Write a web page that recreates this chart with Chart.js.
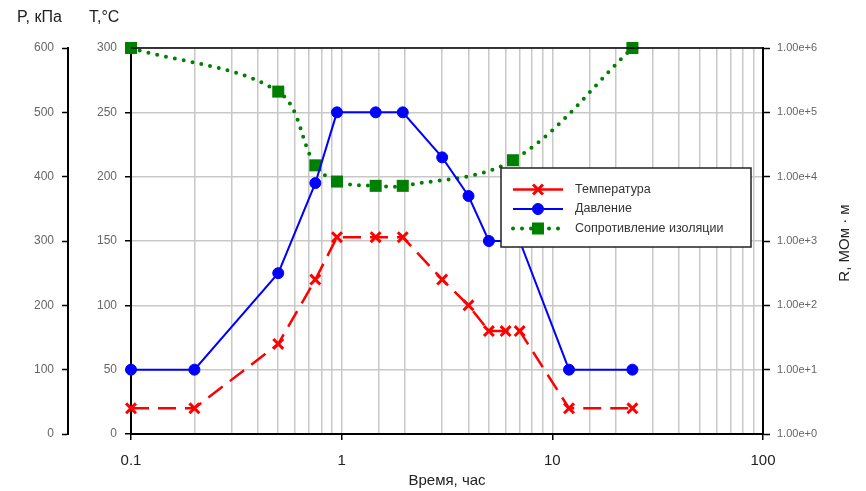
<!DOCTYPE html>
<html>
<head>
<meta charset="utf-8">
<script src="https://cdn.jsdelivr.net/npm/chart.js@4.4.1/dist/chart.umd.min.js"></script>
<style>
  body { margin: 0; background: #fff; }
  #wrap { position: relative; width: 866px; height: 491px; }
</style>
</head>
<body>
<div id="wrap"><canvas id="myChart"></canvas></div>
<script>
// Time, hours (log axis)
var tempTimes = [0.1, 0.2, 0.5, 0.75, 0.95, 1.45, 1.95, 3, 4, 5, 6, 7, 12, 24];
var tempValues = [20, 20, 70, 120, 153, 153, 153, 120, 100, 80, 80, 80, 20, 20];

var pressTimes = [0.1, 0.2, 0.5, 0.75, 0.95, 1.45, 1.95, 3, 4, 5, 7, 12, 24];
var pressValues = [100, 100, 250, 390, 500, 500, 500, 430, 370, 300, 300, 100, 100];

var resTimes = [0.1, 0.5, 0.75, 0.95, 1.45, 1.95, 6.5, 24];
var resValues = [1e6, 2.1e5, 1.5e4, 8.4e3, 7.2e3, 7.2e3, 1.8e4, 1e6];

var seriesLabels = ['Температура', 'Давление', 'Сопротивление изоляции'];

var FONT = 'Liberation Sans, Arial, sans-serif';
Chart.defaults.font.family = FONT;

function isDecade(v) {
     var l = Math.log10(v);
     return Math.abs(l - Math.round(l)) < 1e-9;
}

function toPoints(xs, ys) {
     return xs.map(function (x, i) { return { x: x, y: ys[i] }; });
}

// Legend box, titles and the top border of the plot
var extras = {
     id: 'extras',
     afterDatasetsDraw: function (chart) {
          var ctx = chart.ctx;
          var a = chart.chartArea;
          ctx.save();
          ctx.strokeStyle = '#000';
          ctx.lineWidth = 1.5;
          ctx.beginPath();
          ctx.moveTo(a.left, a.top);
          ctx.lineTo(a.right, a.top);
          ctx.stroke();

          var bx = 501, by = 168, bw = 250, bh = 79;
          ctx.fillStyle = '#fff';
          ctx.fillRect(bx, by, bw, bh);
          ctx.strokeStyle = '#222';
          ctx.lineWidth = 1.5;
          ctx.strokeRect(bx, by, bw, bh);

          chart.data.datasets.forEach(function (ds, i) {
               var ly = by + 21.5 + i * 19.5;
               ctx.beginPath();
               ctx.strokeStyle = ds.borderColor;
               ctx.lineWidth = ds.borderWidth;
               ctx.lineCap = ds.borderCapStyle || 'butt';
               ctx.setLineDash(ds.legendDash);
               ctx.moveTo(bx + 12, ly);
               ctx.lineTo(bx + 62, ly);
               ctx.stroke();
               ctx.setLineDash([]);
               ctx.lineCap = 'butt';
               ctx.fillStyle = ds.pointBackgroundColor;
               ctx.strokeStyle = ds.pointBorderColor;
               ctx.lineWidth = ds.pointBorderWidth;
               Chart.helpers.drawPoint(ctx, {
                    pointStyle: ds.pointStyle, rotation: 0,
                    radius: ds.pointRadius, borderWidth: ds.pointBorderWidth
               }, bx + 37, ly);
               ctx.fillStyle = '#333';
               ctx.font = '12.5px ' + FONT;
               ctx.textAlign = 'left';
               ctx.textBaseline = 'middle';
               ctx.fillText(ds.label, bx + 74, ly);
          });
          ctx.restore();
     },
     afterDraw: function (chart) {
          var ctx = chart.ctx;
          ctx.save();
          ctx.fillStyle = '#222';
          ctx.font = '16px ' + FONT;
          ctx.textBaseline = 'middle';
          ctx.textAlign = 'left';
          ctx.fillText('P, кПа', 17, 18);
          ctx.fillText('T,°C', 89, 18);
          ctx.translate(845, 243);
          ctx.rotate(-Math.PI / 2);
          ctx.textAlign = 'center';
          ctx.font = '15px ' + FONT;
          ctx.fillText('R, МОм · м', 0, 0);
          ctx.restore();
     }
};

var ctxC = document.getElementById('myChart').getContext('2d');
window.myChart = new Chart(ctxC, {
     type: 'line',
     data: {
          datasets: [{
               label: seriesLabels[0],
               data: toPoints(tempTimes, tempValues),
               yAxisID: 'yT',
               borderColor: '#ff0000',
               backgroundColor: '#ff0000',
               borderWidth: 2.5,
               borderDash: [18, 9],
               legendDash: [],
               pointStyle: 'crossRot',
               pointRadius: 7,
               pointBorderWidth: 3,
               pointBorderColor: '#ff0000',
               pointBackgroundColor: '#ff0000',
               tension: 0,
               clip: false
          }, {
               label: seriesLabels[1],
               data: toPoints(pressTimes, pressValues),
               yAxisID: 'yP',
               borderColor: '#0000ff',
               backgroundColor: '#0000ff',
               borderWidth: 2,
               legendDash: [],
               pointStyle: 'circle',
               pointRadius: 5.5,
               pointBorderWidth: 1,
               pointBorderColor: '#0000ff',
               pointBackgroundColor: '#0000ff',
               tension: 0,
               clip: false
          }, {
               label: seriesLabels[2],
               data: toPoints(resTimes, resValues),
               yAxisID: 'yR',
               borderColor: '#008000',
               backgroundColor: '#008000',
               borderWidth: 4,
               borderDash: [0, 9],
               borderCapStyle: 'round',
               legendDash: [0, 9],
               pointStyle: 'rect',
               pointRadius: 8.5,
               pointBorderWidth: 0,
               pointBorderColor: '#008000',
               pointBackgroundColor: '#008000',
               tension: 0.35,
               clip: false
          }]
     },
     options: {
          responsive: true,
          maintainAspectRatio: false,
          animation: false,
          layout: { padding: { top: 48, left: 10, right: 0, bottom: 0 } },
          plugins: {
               legend: { display: false },
               tooltip: { enabled: false }
          },
          scales: {
               x: {
                    type: 'logarithmic',
                    position: 'bottom',
                    min: 0.1,
                    max: 100,
                    afterFit: function (s) { s.height = 57; },
                    grid: {
                         color: '#c8c8c8',
                         lineWidth: 1.5,
                         tickLength: 6,
                         tickWidth: 1.5,
                         tickColor: function (c) {
                              return c.tick && isDecade(c.tick.value) ? '#000' : 'rgba(0,0,0,0)';
                         }
                    },
                    border: { color: '#000', width: 2 },
                    ticks: {
                         autoSkip: false,
                         maxRotation: 0,
                         padding: 12,
                         color: '#222',
                         font: { size: 15 },
                         callback: function (v) { return isDecade(v) ? String(v) : ''; }
                    },
                    title: {
                         display: true,
                         text: 'Время, час',
                         color: '#222',
                         font: { size: 15 },
                         padding: { top: 0, bottom: 1 }
                    }
               },
               yT: {
                    type: 'linear',
                    position: 'left',
                    weight: 0,
                    min: 0,
                    max: 300,
                    afterFit: function (s) { s.width = 63; },
                    ticks: { stepSize: 50, color: '#666', font: { size: 12 }, padding: 8 },
                    grid: { color: '#c8c8c8', lineWidth: 1.5, tickLength: 6, tickWidth: 1.5, tickColor: '#000' },
                    border: { color: '#000', width: 2 }
               },
               yP: {
                    type: 'linear',
                    position: 'left',
                    weight: 1,
                    min: 0,
                    max: 600,
                    afterFit: function (s) { s.width = 58; },
                    ticks: { stepSize: 100, color: '#666', font: { size: 12 }, padding: 8 },
                    grid: { drawOnChartArea: false, tickLength: 6, tickWidth: 1.5, tickColor: '#000' },
                    border: { color: '#000', width: 2 }
               },
               yR: {
                    type: 'logarithmic',
                    position: 'right',
                    min: 1,
                    max: 1e6,
                    afterFit: function (s) { s.width = 103; },
                    afterBuildTicks: function (s) {
                         s.ticks = s.ticks.filter(function (t) { return isDecade(t.value); });
                    },
                    ticks: {
                         color: '#666',
                         font: { size: 11 },
                         padding: 7,
                         callback: function (v) { return Number(v).toExponential(2); }
                    },
                    grid: { drawOnChartArea: false, tickLength: 7, tickWidth: 1.5, tickColor: '#000' },
                    border: { color: '#000', width: 2 }
               }
          }
     },
     plugins: [extras]
});
</script>
</body>
</html>
